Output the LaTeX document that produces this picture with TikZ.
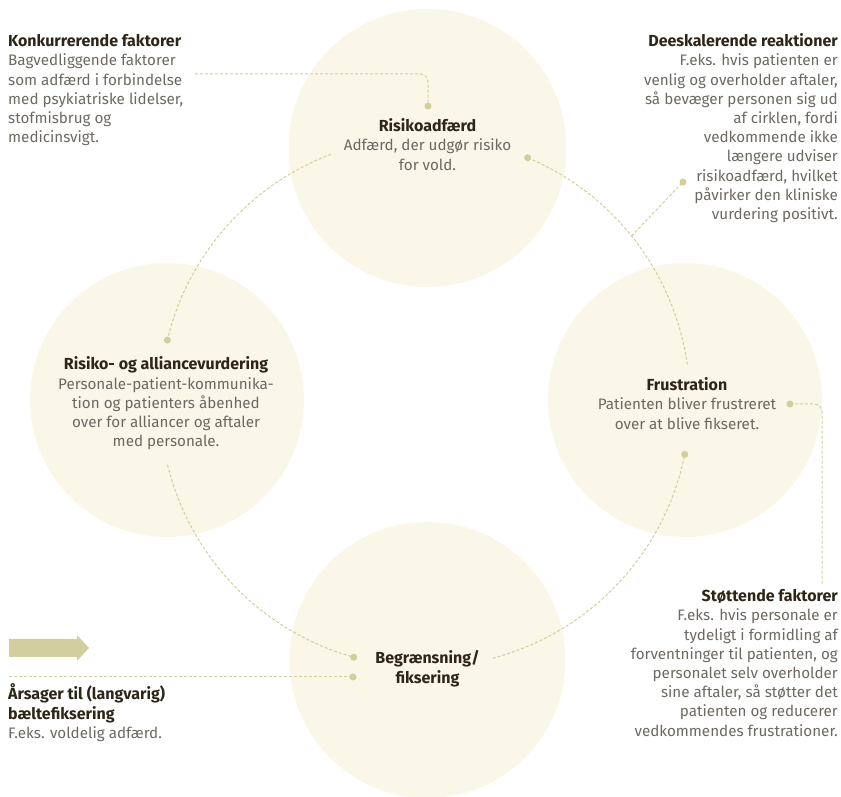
\documentclass[tikz,border=0pt]{standalone}
\usepackage{fontspec}
\setmainfont{Fira Sans}
\usetikzlibrary{calc}
\definecolor{circfill}{HTML}{FAF6E8}
\definecolor{dashc}{HTML}{D3CE9E}
\definecolor{arrowc}{HTML}{D3CEA0}
\definecolor{ttlc}{HTML}{2E2519}
\definecolor{bodyc}{HTML}{6E6862}
\newcommand{\myhead}[1]{{\fontsize{16}{19.2}\selectfont\bfseries\color{ttlc}#1}}
\begin{document}
\begin{tikzpicture}[x=1pt,y=1pt,
  circ/.style={circle,fill=circfill,inner sep=0pt,minimum size=#1},
  dashline/.style={draw=dashc,line width=1pt,dash pattern=on 3pt off 2pt},
  dotmark/.style={fill=dashc},
  txt/.style={inner sep=0pt,text=bodyc,font=\fontsize{15.2}{19.2}\selectfont},
]
\useasboundingbox (0,0) rectangle (841,797);
% circles
\node[circ=278pt] (ctop) at (427.5,649) {};
\node[circ=276pt] (cbot) at (427.5,137) {};
\node[circ=274pt] (cleft) at (167,397) {};
\node[circ=274pt] (cright) at (685,397) {};
% ring
\coordinate (ring) at (425,395);
\coordinate (a1s) at ($(ring)+(110.8:265)$);
\coordinate (a1e) at ($(ring)+(166.5:265)$);
\coordinate (a2s) at ($(ring)+(193.7:265)$);
\coordinate (a2e) at ($(ring)+(254.4:265)$);
\coordinate (a3s) at ($(ring)+(284.8:265)$);
\coordinate (a3e) at ($(ring)+(348.6:265)$);
\coordinate (a4s) at ($(ring)+(8.1:265)$);
\coordinate (a4e) at ($(ring)+(67.2:265)$);
\coordinate (deesk) at ($(ring)+(38.8:265)$);
\draw[dashline] (a1s) arc[start angle=110.8,end angle=166.5,radius=265];
\draw[dashline] (a2s) arc[start angle=193.7,end angle=254.4,radius=265];
\draw[dashline] (a3s) arc[start angle=284.8,end angle=348.6,radius=265];
\draw[dashline] (a4s) arc[start angle=8.1,end angle=67.2,radius=265];
\foreach \p in {a1e,a2e,a3e,a4e} \fill[dotmark] (\p) circle (3.5);
% side connectors
\coordinate (dkdot) at (683,615);
\draw[dashline] (deesk) -- (dkdot);
\fill[dotmark] (dkdot) circle (3.5);
\coordinate (kfstart) at (195,723);
\coordinate (kfdot) at (428,691);
\draw[dashline,rounded corners=8pt] (kfstart) -| (kfdot);
\fill[dotmark] (kfdot) circle (3.5);
\coordinate (stdot) at (790,393);
\coordinate (stend) at (822,212);
\draw[dashline,rounded corners=8pt] (stdot) -| (stend);
\fill[dotmark] (stdot) circle (3.5);
\coordinate (arstart) at (9,120);
\coordinate (ardot) at (353,120);
\draw[dashline] (arstart) -- (ardot);
\fill[dotmark] (ardot) circle (3.5);
% arrow
\fill[arrowc] (9,158) -- (77,158) -- (77,162) -- (89,149) -- (77,136) -- (77,140) -- (9,140) -- cycle;
% texts (anchored at the baseline of their last line)
\node[txt,align=left,anchor=base west] (tkonk) at (8,654.3) {\myhead{Konkurrerende faktorer}\\Bagvedliggende faktorer\\som adfærd i forbindelse\\med psykiatriske lidelser,\\stofmisbrug og\\medicinsvigt.};
\node[txt,align=right,anchor=base east] (tdeesk) at (838,577.5) {\myhead{Deeskalerende reaktioner}\\F.eks. hvis patienten er\\venlig og overholder aftaler,\\så bevæger personen sig ud\\af cirklen, fordi\\vedkommende ikke\\længere udviser\\risikoadfærd, hvilket\\påvirker den kliniske\\vurdering positivt.};
\node[txt,align=center,anchor=base] (trisk) at (427.5,626.9) {\myhead{Risikoadfærd}\\Adfærd, der udgør risiko\\for vold.};
\node[txt,align=center,anchor=base] (tall) at (166,350.2) {\myhead{Risiko- og alliancevurdering}\\Personale-patient-kommunika-\\tion og patienters åbenhed\\over for alliancer og aftaler\\med personale.};
\node[txt,align=center,anchor=base] (tfru) at (687,367.9) {\myhead{Frustration}\\Patienten bliver frustreret\\over at blive fikseret.};
\node[txt,align=center,anchor=base] (tbeg) at (427.5,113.8) {\myhead{Begrænsning/}\\\myhead{fiksering}};
\node[txt,align=left,anchor=base west] (tars) at (8,58.6) {\myhead{Årsager til (langvarig)}\\\myhead{bæltefiksering}\\F.eks. voldelig adfærd.};
\node[txt,align=right,anchor=base east] (tstot) at (838,60.9) {\myhead{Støttende faktorer}\\F.eks. hvis personale er\\tydeligt i formidling af\\forventninger til patienten, og\\personalet selv overholder\\sine aftaler, så støtter det\\patienten og reducerer\\vedkommendes frustrationer.};
\end{tikzpicture}
\end{document}
